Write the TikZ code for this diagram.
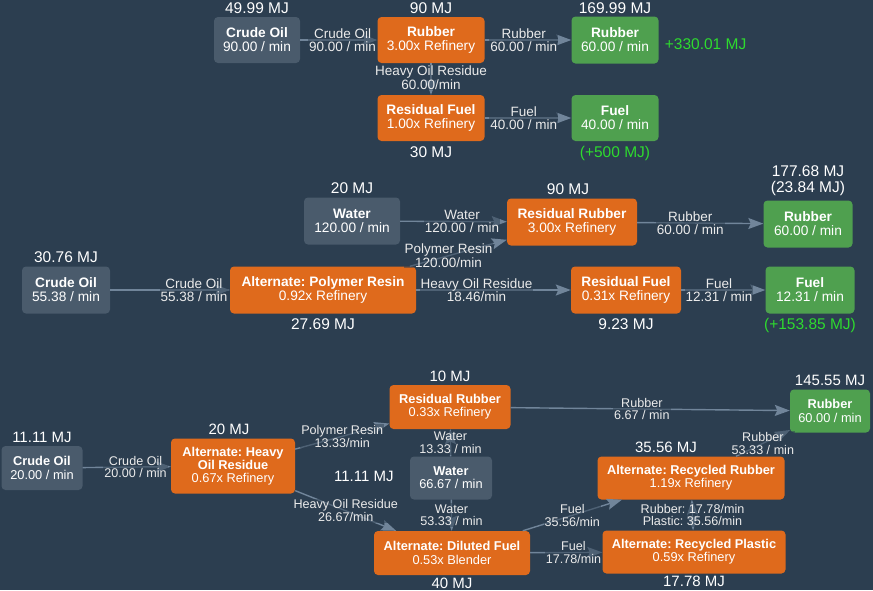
\documentclass[tikz,border=0pt]{standalone}
\usepackage{fontspec}
\setmainfont{Liberation Sans}
\usepackage{xcolor}
\definecolor{Backdrop}{HTML}{2C3E50}
\definecolor{SlateNode}{HTML}{4A5B6C}
\definecolor{Rust}{HTML}{DF6A1C}
\definecolor{Leaf}{HTML}{4FA04F}
\definecolor{Wire}{HTML}{71859A}
\definecolor{Lime}{HTML}{2EDB2E}
\usepackage{tikz}
\usetikzlibrary{arrows.meta, positioning}
\frenchspacing

\tikzset{
  box/.style={rounded corners=4pt, inner sep=0pt, align=center, text=white,
    font=\fontsize{13.7}{14}\selectfont},
  src/.style={box, fill=SlateNode},
  proc/.style={box, fill=Rust},
  sink/.style={box, fill=Leaf},
  flow/.style={draw=Wire, line width=1.4pt, >={Stealth[length=15pt,width=11pt,inset=2.5pt]}, ->},
  lbl/.style={font=\fontsize{13.5}{13.5}\selectfont, text=white!92!black, fill=Backdrop,
    fill opacity=0.5, text opacity=1, inner sep=1pt, align=center},
  mj/.style={font=\fontsize{15.5}{16.5}\selectfont, text=white, inner sep=1pt, align=center},
  gain/.style={mj, text=Lime},
}

\begin{document}
\begin{tikzpicture}[x=1pt, y=-1pt]
  \fill[Backdrop] (0,0) rectangle (873,590);
  \useasboundingbox (0,0) rectangle (873,590);

  % first chain
  \node[src, minimum width=86pt, minimum height=46pt] (crudeA) at (257,40) {\textbf{Crude Oil}\\90.00 / min};
  \node[proc, minimum width=107pt, minimum height=46pt] (rubberA) at (431,40) {\textbf{Rubber}\\3.00x Refinery};
  \node[sink, minimum width=87pt, minimum height=47pt] (rubOutA) at (615,40) {\textbf{Rubber}\\60.00 / min};
  \node[proc, minimum width=107pt, minimum height=46pt] (resFuelA) at (431,118) {\textbf{Residual Fuel}\\1.00x Refinery};
  \node[sink, minimum width=87pt, minimum height=46pt] (fuelOutA) at (615,118) {\textbf{Fuel}\\40.00 / min};

  \node[mj, above=1.5pt of crudeA] (mjCrudeA) {49.99 MJ};
  \node[mj, above=1.5pt of rubberA] (mjRubberA) {90 MJ};
  \node[mj, above=1.5pt of rubOutA] (mjRubOutA) {169.99 MJ};
  \node[gain, right=5pt of rubOutA, yshift=-4pt] (gainRubA) {+330.01 MJ};
  \node[mj, below=4pt of resFuelA] (mjResFuelA) {30 MJ};
  \node[gain, below=4pt of fuelOutA] (gainFuelA) {(+500 MJ)};

  \draw[flow] (crudeA) -- node[lbl, pos=0.55] {Crude Oil\\90.00 / min} (rubberA);
  \draw[flow] (rubberA) -- node[lbl, pos=0.45] {Rubber\\60.00 / min} (rubOutA);
  \draw[flow] (rubberA) -- node[lbl, pos=0.45] {Heavy Oil Residue\\60.00/min} (resFuelA);
  \draw[flow] (resFuelA) -- node[lbl, pos=0.45] {Fuel\\40.00 / min} (fuelOutA);

  % second chain
  \node[src, minimum width=96pt, minimum height=47pt] (waterB) at (352,221) {\textbf{Water}\\120.00 / min};
  \node[proc, minimum width=130pt, minimum height=47pt] (resRubB) at (572,222) {\textbf{Residual Rubber}\\3.00x Refinery};
  \node[sink, minimum width=89pt, minimum height=47pt] (rubOutB) at (808,224) {\textbf{Rubber}\\60.00 / min};
  \node[src, minimum width=88pt, minimum height=47pt] (crudeB) at (66,290) {\textbf{Crude Oil}\\55.38 / min};
  \node[proc, minimum width=186pt, minimum height=47pt] (polyB) at (323,290) {\textbf{Alternate: Polymer Resin}\\0.92x Refinery};
  \node[proc, minimum width=110pt, minimum height=47pt] (resFuelB) at (626,290) {\textbf{Residual Fuel}\\0.31x Refinery};
  \node[sink, minimum width=89pt, minimum height=47pt] (fuelOutB) at (810,290) {\textbf{Fuel}\\12.31 / min};

  \node[mj, above=2pt of waterB] (mjWaterB) {20 MJ};
  \node[mj, above=2pt of resRubB, xshift=-4pt] (mjResRubB) {90 MJ};
  \node[mj, above=3pt of rubOutB] (mjRubOutB) {177.68 MJ\\(23.84 MJ)};
  \node[mj, above=2pt of crudeB] (mjCrudeB) {30.76 MJ};
  \node[mj, below=3.5pt of polyB] (mjPolyB) {27.69 MJ};
  \node[mj, below=3.5pt of resFuelB] (mjResFuelB) {9.23 MJ};
  \node[gain, below=3.5pt of fuelOutB] (gainFuelB) {(+153.85 MJ)};

  \draw[flow] (waterB) -- node[lbl, pos=0.58] {Water\\120.00 / min} (resRubB);
  \draw[flow] (polyB) -- node[lbl, pos=0.4] {Polymer Resin\\120.00/min} (resRubB);
  \draw[flow] (resRubB) -- node[lbl, pos=0.42] {Rubber\\60.00 / min} (rubOutB);
  \draw[flow] (crudeB) -- node[lbl, pos=0.7] {Crude Oil\\55.38 / min} (polyB);
  \draw[flow] (polyB) -- node[lbl, pos=0.39] {Heavy Oil Residue\\18.46/min} (resFuelB);
  \draw[flow] (resFuelB) -- node[lbl, pos=0.45] {Fuel\\12.31 / min} (fuelOutB);

  % third chain
  \begin{scope}[box/.append style={font=\fontsize{12.8}{13.2}\selectfont},
                lbl/.append style={font=\fontsize{12.6}{12.8}\selectfont},
                mj/.append style={font=\fontsize{15}{16}\selectfont}]
  \node[src, minimum width=81pt, minimum height=44pt] (crudeC) at (42,468) {\textbf{Crude Oil}\\20.00 / min};
  \node[proc, minimum width=124pt, minimum height=55pt] (heavyC) at (233,466) {\textbf{Alternate: Heavy}\\\textbf{Oil Residue}\\0.67x Refinery};
  \node[proc, minimum width=121pt, minimum height=44pt] (resRubC) at (450,407) {\textbf{Residual Rubber}\\0.33x Refinery};
  \node[src, minimum width=82pt, minimum height=43pt] (waterC) at (451,478) {\textbf{Water}\\66.67 / min};
  \node[proc, minimum width=156pt, minimum height=44pt] (dilutedC) at (452,553) {\textbf{Alternate: Diluted Fuel}\\0.53x Blender};
  \node[sink, minimum width=80pt, minimum height=43pt] (rubOutC) at (830,411) {\textbf{Rubber}\\60.00 / min};
  \node[proc, minimum width=187pt, minimum height=43pt] (recRubC) at (691,478) {\textbf{Alternate: Recycled Rubber}\\1.19x Refinery};
  \node[proc, minimum width=183pt, minimum height=43pt] (recPlaC) at (694,552) {\textbf{Alternate: Recycled Plastic}\\0.59x Refinery};

  \node[mj, above=2pt of crudeC] (mjCrudeC) {11.11 MJ};
  \node[mj, above=2pt of heavyC, xshift=-4pt] (mjHeavyC) {20 MJ};
  \node[mj, above=2pt of resRubC] (mjResRubC) {10 MJ};
  \node[mj, left=15pt of waterC, yshift=2pt] (mjWaterC) {11.11 MJ};
  \node[mj, below=1.5pt of dilutedC] (mjDilutedC) {40 MJ};
  \node[mj, above=2pt of rubOutC] (mjRubOutC) {145.55 MJ};
  \node[mj, above=2pt of recRubC, xshift=-25pt] (mjRecRubC) {35.56 MJ};
  \node[mj, below=1.5pt of recPlaC] (mjRecPlaC) {17.78 MJ};

  \draw[flow] (crudeC) -- node[lbl, pos=0.6] {Crude Oil\\20.00 / min} (heavyC);
  \draw[flow] (heavyC) -- node[lbl] {Polymer Resin\\13.33/min} (resRubC);
  \draw[flow] (heavyC) -- node[lbl] {Heavy Oil Residue\\26.67/min} (dilutedC);
  \draw[flow] (resRubC) -- node[lbl, pos=0.47] {Rubber\\6.67 / min} (rubOutC);
  \draw[flow] (waterC) -- node[lbl] {Water\\13.33 / min} (resRubC);
  \draw[flow] (waterC) -- node[lbl] {Water\\53.33 / min} (dilutedC);
  \draw[flow] (dilutedC) -- node[lbl] {Fuel\\35.56/min} (recRubC);
  \draw[flow] (dilutedC) -- node[lbl, pos=0.6] {Fuel\\17.78/min} (recPlaC);
  \draw[flow] (recRubC) -- node[lbl] {Rubber\\53.33 / min} (rubOutC);
  \draw[flow, <->] (recRubC) -- node[lbl] {Rubber: 17.78/min\\Plastic: 35.56/min} (recPlaC);
  \end{scope}
\end{tikzpicture}
\end{document}
